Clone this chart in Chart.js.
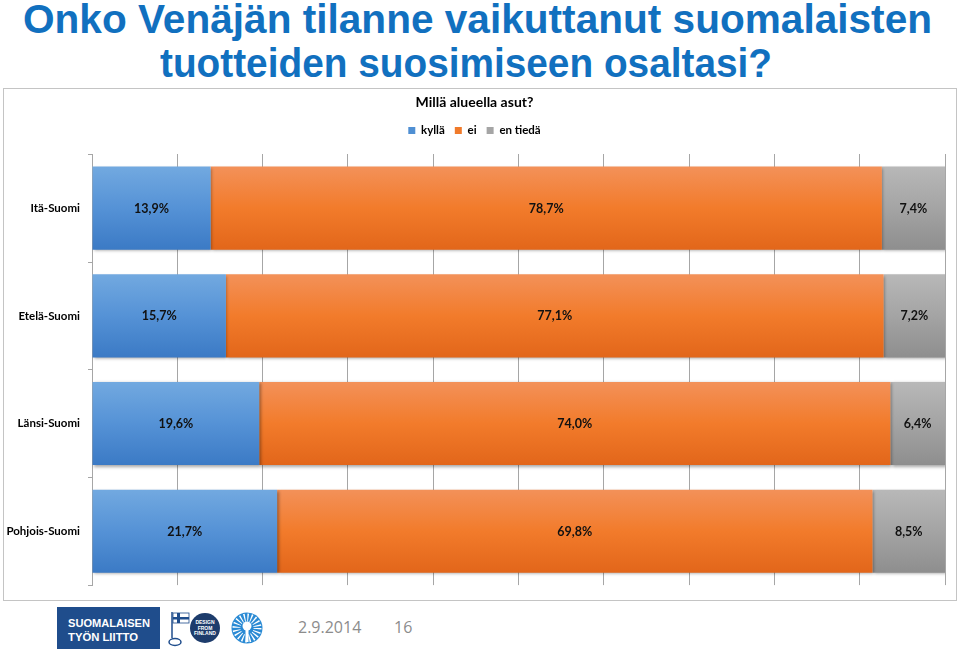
<!DOCTYPE html>
<html><head><meta charset="utf-8">
<script src="https://cdn.jsdelivr.net/npm/chart.js@4/dist/chart.umd.min.js"></script>
<style>
html,body{margin:0;padding:0;background:#fff;width:960px;height:652px;overflow:hidden;position:relative;font-family:'Liberation Sans',Arial,sans-serif;}
.t{position:absolute;white-space:nowrap;font-weight:bold;font-size:40px;line-height:40px;color:#1170bf;transform-origin:0 0;}
#box{position:absolute;left:3px;top:88px;width:952px;height:511px;border:1px solid #c4c4c4;}
#wrap{position:absolute;left:0;top:0;width:952px;height:511px;}
.foot{position:absolute;font-family:'Open Sans',sans-serif;font-size:16px;color:#8c8c8c;line-height:20px;}
#logos{position:absolute;left:0;top:600px;}
</style></head>
<body>
<div class="t" id="l1" style="top:-1px">Onko Venäjän tilanne vaikuttanut suomalaisten</div>
<div class="t" id="l2" style="top:43px">tuotteiden suosimiseen osaltasi?</div>
<div id="box"><div id="wrap"><canvas id="c"></canvas></div></div>
<svg id="logos" width="300" height="52" viewBox="0 600 300 52">
  <rect x="57" y="607" width="103" height="42" fill="#1f4d8c"/>
  <text x="68" y="627" fill="#fff" font-family="Liberation Sans, Arial" font-weight="bold" font-size="11.5" textLength="82" lengthAdjust="spacingAndGlyphs">SUOMALAISEN</text>
  <text x="68" y="641" fill="#fff" font-family="Liberation Sans, Arial" font-weight="bold" font-size="11.5" textLength="70" lengthAdjust="spacingAndGlyphs">TYÖN LIITTO</text>
  <line x1="172" y1="612" x2="172" y2="638" stroke="#1f4d8c" stroke-width="1.5"/>
  <rect x="173" y="613" width="16" height="10" fill="#fff" stroke="#1f4d8c" stroke-width="0.8"/>
  <rect x="177" y="613" width="3" height="10" fill="#1f4d8c"/>
  <rect x="173" y="617" width="16" height="2.5" fill="#1f4d8c"/>
  <ellipse cx="175" cy="642" rx="6" ry="3.5" fill="none" stroke="#1f4d8c" stroke-width="1.5"/>
  <circle cx="205" cy="628" r="15" fill="#1d3c6c"/>
  <text x="205" y="624" fill="#fff" font-family="Liberation Sans, Arial" font-weight="bold" font-size="5" text-anchor="middle">DESIGN</text>
  <text x="205" y="629.5" fill="#fff" font-family="Liberation Sans, Arial" font-weight="bold" font-size="5" text-anchor="middle">FROM</text>
  <text x="205" y="635" fill="#fff" font-family="Liberation Sans, Arial" font-weight="bold" font-size="5" text-anchor="middle">FINLAND</text>
  <circle cx="247" cy="628" r="15.5" fill="#2a8ad4"/>
  <circle cx="247" cy="628" r="10.5" fill="none" stroke="#fff" stroke-width="8" stroke-dasharray="1.2 2.1"/>
  <circle cx="247" cy="626" r="4.5" fill="#fff"/>
  <rect x="245.5" y="628" width="3" height="14" fill="#fff"/>
</svg>
<div class="foot" style="left:298px;top:617px">2.9.2014</div>
<div class="foot" style="left:394px;top:617px">16</div>
<script>
const categories = ['Itä-Suomi', 'Etelä-Suomi', 'Länsi-Suomi', 'Pohjois-Suomi'];
const seriesNames = ['kyllä', 'ei', 'en tiedä'];
const kyllaValues = [13.9, 15.7, 19.6, 21.7];
const eiValues = [78.7, 77.1, 74.0, 69.8];
const enTiedaValues = [7.4, 7.2, 6.4, 8.5];
const chartTitle = 'Millä alueella asut?';

function fitLine(id, left, width) {
  const el = document.getElementById(id);
  el.style.left = left + 'px';
  const w = el.getBoundingClientRect().width;
  el.style.transform = 'scaleX(' + (width / w) + ')';
}
fitLine('l1', 23, 909);
fitLine('l2', 160, 612);

const BAR_PCT = 0.772;
const stopsBlue = ['#72a9e0', '#5592d6', '#3b7ac5'];
const stopsOrange = ['#f39159', '#f27b2b', '#e2661a'];
const stopsGrey = ['#b8b8b8', '#a4a4a4', '#8e8e8e'];
const legendColors = ['#4f8fd3', '#f07a2a', '#a5a5a5'];

function grad(stops) {
  return (ctx) => {
    const ch = ctx.chart;
    const ys = ch.scales && ch.scales.y;
    if (!ys || ctx.type !== 'data' || !ys.height) return stops[1];
    const c = ys.getPixelForValue(ctx.dataIndex);
    const h = ys.height / categories.length * BAR_PCT / 2;
    const g = ch.ctx.createLinearGradient(0, c - h, 0, c + h);
    g.addColorStop(0, stops[0]);
    g.addColorStop(0.5, stops[1]);
    g.addColorStop(1, stops[2]);
    return g;
  };
}

const shadowPlugin = {
  id: 'barShadow',
  beforeDatasetsDraw(chart) {
    const c = chart.ctx; c.save();
    c.shadowColor = 'rgba(0,0,0,0.35)'; c.shadowBlur = 3; c.shadowOffsetX = 1.5; c.shadowOffsetY = 1.5;
  },
  afterDatasetsDraw(chart) { chart.ctx.restore(); }
};
const valueLabels = {
  id: 'valueLabels',
  afterDatasetsDraw(chart) {
    const c = chart.ctx; c.save();
    c.font = 'bold 12.5px Lato'; c.fillStyle = '#111';
    c.textAlign = 'center'; c.textBaseline = 'middle';
    chart.data.datasets.forEach((ds, i) => {
      chart.getDatasetMeta(i).data.forEach((el, j) => {
        const v = ds.data[j];
        c.fillText(v.toFixed(1).replace('.', ',') + '%', (el.x + el.base) / 2, el.y + 0.5);
      });
    });
    c.restore();
  }
};

Chart.defaults.font.family = 'Lato';
new Chart(document.getElementById('c'), {
  type: 'bar',
  data: {
    labels: categories,
    datasets: [
      { label: seriesNames[0], data: kyllaValues, backgroundColor: grad(stopsBlue) },
      { label: seriesNames[1], data: eiValues, backgroundColor: grad(stopsOrange) },
      { label: seriesNames[2], data: enTiedaValues, backgroundColor: grad(stopsGrey) }
    ]
  },
  options: {
    indexAxis: 'y',
    responsive: true,
    maintainAspectRatio: false,
    animation: false,
    datasets: { bar: { categoryPercentage: 1, barPercentage: BAR_PCT, borderWidth: 0 } },
    layout: { padding: { left: 0, right: 11, top: 0, bottom: 12 } },
    plugins: {
      title: { display: true, text: chartTitle, color: '#000', font: { family: 'Lato', size: 14, weight: 'bold', lineHeight: 1.2 }, padding: { top: 5, bottom: 4 } },
      legend: {
        display: true, position: 'top',
        labels: {
          boxWidth: 7, boxHeight: 7, padding: 10, color: '#000',
          font: { family: 'Lato', size: 11.5, weight: 'bold' },
          generateLabels: (chart) => chart.data.datasets.map((d, i) => ({
            text: d.label, fillStyle: legendColors[i], strokeStyle: legendColors[i], lineWidth: 0,
            hidden: false, datasetIndex: i, fontColor: '#000'
          }))
        }
      },
      tooltip: { enabled: false }
    },
    scales: {
      x: {
        position: 'top', stacked: true, min: 0, max: 100,
        ticks: { display: false, stepSize: 10 },
        grid: { color: '#a6a6a6', drawTicks: true, tickLength: 8, tickColor: 'rgba(0,0,0,0)' },
        border: { display: false }
      },
      y: {
        stacked: true,
        ticks: { color: '#000', padding: 8, font: { family: 'Lato', size: 11.5, weight: 'bold' } },
        grid: { drawOnChartArea: false, drawTicks: true, tickLength: 4, color: '#a6a6a6' },
        border: { display: true, color: '#a6a6a6', width: 1 },
        afterFit: (s) => { s.width = 88; }
      }
    }
  },
  plugins: [shadowPlugin, valueLabels]
});
</script>
</body></html>
